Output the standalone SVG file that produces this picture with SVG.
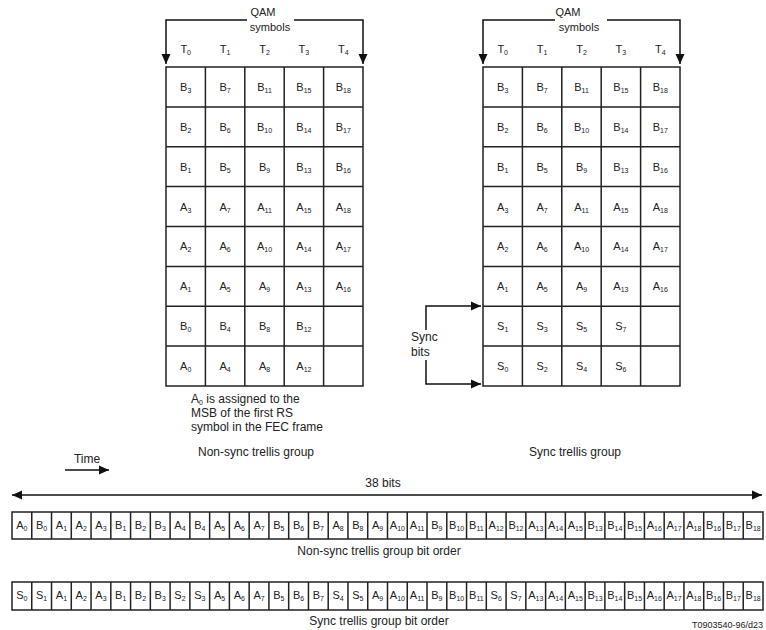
<svg xmlns="http://www.w3.org/2000/svg" width="766" height="630" viewBox="0 0 766 630">
<defs>
<marker id="ah" markerUnits="userSpaceOnUse" markerWidth="10" markerHeight="10" viewBox="0 0 10 10" refX="10" refY="5" orient="auto-start-reverse">
<path d="M0,0.5 L10,5 L0,9.5 Z" fill="#111"/>
</marker>
</defs>
<style>
text{font-family:"Liberation Sans",Arial,sans-serif;fill:#222}
.c{font-size:11px;text-anchor:middle}
.s{font-size:7px}
.l{font-size:12px}
.lm{font-size:12px;text-anchor:middle}
.g{fill:none;stroke:#222;stroke-width:1.5}
.a{fill:none;stroke:#111;stroke-width:1.5}
</style>
<rect width="766" height="630" fill="#fff"/>

<g id="connectors">
<path class="a" d="M247,20 L166,20 L166,64" marker-end="url(#ah)"/>
<path class="a" d="M294,20 L363,20 L363,64" marker-end="url(#ah)"/>
<path class="a" d="M555,20 L483,20 L483,64" marker-end="url(#ah)"/>
<path class="a" d="M607,20 L680,20 L680,64" marker-end="url(#ah)"/>
<path class="a" d="M426,330 L426,306 L481,306" marker-end="url(#ah)"/>
<path class="a" d="M426,360 L426,384 L481,384" marker-end="url(#ah)"/>
<path class="a" d="M65,470 L109,470" marker-end="url(#ah)"/>
<path class="a" d="M12,495 L762,495" marker-start="url(#ah)" marker-end="url(#ah)"/>
</g>

<g id="header-left">
<text class="c" x="263" y="16">QAM</text>
<text class="c" x="270" y="31">symbols</text>
<text class="c" x="185.7" y="53">T<tspan class="s" dy="2">0</tspan></text>
<text class="c" x="225.1" y="53">T<tspan class="s" dy="2">1</tspan></text>
<text class="c" x="264.5" y="53">T<tspan class="s" dy="2">2</tspan></text>
<text class="c" x="303.9" y="53">T<tspan class="s" dy="2">3</tspan></text>
<text class="c" x="343.3" y="53">T<tspan class="s" dy="2">4</tspan></text>
</g>

<g id="header-right">
<text class="c" x="568" y="16">QAM</text>
<text class="c" x="579" y="31">symbols</text>
<text class="c" x="502.7" y="53">T<tspan class="s" dy="2">0</tspan></text>
<text class="c" x="542.1" y="53">T<tspan class="s" dy="2">1</tspan></text>
<text class="c" x="581.5" y="53">T<tspan class="s" dy="2">2</tspan></text>
<text class="c" x="620.9" y="53">T<tspan class="s" dy="2">3</tspan></text>
<text class="c" x="660.3" y="53">T<tspan class="s" dy="2">4</tspan></text>
</g>

<g id="grid-nonsync">
<rect class="g" x="166" y="67" width="197" height="319"/>
<path class="g" d="M205.4,67V386M244.8,67V386M284.2,67V386M323.6,67V386M166,106.9H363M166,146.75H363M166,186.6H363M166,226.5H363M166,266.4H363M166,306.25H363M166,346.1H363"/>
<text class="c" x="185.7" y="91">B<tspan class="s" dy="2">3</tspan></text>
<text class="c" x="225.1" y="91">B<tspan class="s" dy="2">7</tspan></text>
<text class="c" x="264.5" y="91">B<tspan class="s" dy="2">11</tspan></text>
<text class="c" x="303.9" y="91">B<tspan class="s" dy="2">15</tspan></text>
<text class="c" x="343.3" y="91">B<tspan class="s" dy="2">18</tspan></text>
<text class="c" x="185.7" y="131">B<tspan class="s" dy="2">2</tspan></text>
<text class="c" x="225.1" y="131">B<tspan class="s" dy="2">6</tspan></text>
<text class="c" x="264.5" y="131">B<tspan class="s" dy="2">10</tspan></text>
<text class="c" x="303.9" y="131">B<tspan class="s" dy="2">14</tspan></text>
<text class="c" x="343.3" y="131">B<tspan class="s" dy="2">17</tspan></text>
<text class="c" x="185.7" y="171">B<tspan class="s" dy="2">1</tspan></text>
<text class="c" x="225.1" y="171">B<tspan class="s" dy="2">5</tspan></text>
<text class="c" x="264.5" y="171">B<tspan class="s" dy="2">9</tspan></text>
<text class="c" x="303.9" y="171">B<tspan class="s" dy="2">13</tspan></text>
<text class="c" x="343.3" y="171">B<tspan class="s" dy="2">16</tspan></text>
<text class="c" x="185.7" y="211">A<tspan class="s" dy="2">3</tspan></text>
<text class="c" x="225.1" y="211">A<tspan class="s" dy="2">7</tspan></text>
<text class="c" x="264.5" y="211">A<tspan class="s" dy="2">11</tspan></text>
<text class="c" x="303.9" y="211">A<tspan class="s" dy="2">15</tspan></text>
<text class="c" x="343.3" y="211">A<tspan class="s" dy="2">18</tspan></text>
<text class="c" x="185.7" y="250">A<tspan class="s" dy="2">2</tspan></text>
<text class="c" x="225.1" y="250">A<tspan class="s" dy="2">6</tspan></text>
<text class="c" x="264.5" y="250">A<tspan class="s" dy="2">10</tspan></text>
<text class="c" x="303.9" y="250">A<tspan class="s" dy="2">14</tspan></text>
<text class="c" x="343.3" y="250">A<tspan class="s" dy="2">17</tspan></text>
<text class="c" x="185.7" y="290">A<tspan class="s" dy="2">1</tspan></text>
<text class="c" x="225.1" y="290">A<tspan class="s" dy="2">5</tspan></text>
<text class="c" x="264.5" y="290">A<tspan class="s" dy="2">9</tspan></text>
<text class="c" x="303.9" y="290">A<tspan class="s" dy="2">13</tspan></text>
<text class="c" x="343.3" y="290">A<tspan class="s" dy="2">16</tspan></text>
<text class="c" x="185.7" y="330">B<tspan class="s" dy="2">0</tspan></text>
<text class="c" x="225.1" y="330">B<tspan class="s" dy="2">4</tspan></text>
<text class="c" x="264.5" y="330">B<tspan class="s" dy="2">8</tspan></text>
<text class="c" x="303.9" y="330">B<tspan class="s" dy="2">12</tspan></text>
<text class="c" x="185.7" y="370">A<tspan class="s" dy="2">0</tspan></text>
<text class="c" x="225.1" y="370">A<tspan class="s" dy="2">4</tspan></text>
<text class="c" x="264.5" y="370">A<tspan class="s" dy="2">8</tspan></text>
<text class="c" x="303.9" y="370">A<tspan class="s" dy="2">12</tspan></text>
</g>

<g id="grid-sync">
<rect class="g" x="483" y="67" width="197" height="319"/>
<path class="g" d="M522.4,67V386M561.8,67V386M601.2,67V386M640.6,67V386M483,106.9H680M483,146.75H680M483,186.6H680M483,226.5H680M483,266.4H680M483,306.25H680M483,346.1H680"/>
<text class="c" x="502.7" y="91">B<tspan class="s" dy="2">3</tspan></text>
<text class="c" x="542.1" y="91">B<tspan class="s" dy="2">7</tspan></text>
<text class="c" x="581.5" y="91">B<tspan class="s" dy="2">11</tspan></text>
<text class="c" x="620.9" y="91">B<tspan class="s" dy="2">15</tspan></text>
<text class="c" x="660.3" y="91">B<tspan class="s" dy="2">18</tspan></text>
<text class="c" x="502.7" y="131">B<tspan class="s" dy="2">2</tspan></text>
<text class="c" x="542.1" y="131">B<tspan class="s" dy="2">6</tspan></text>
<text class="c" x="581.5" y="131">B<tspan class="s" dy="2">10</tspan></text>
<text class="c" x="620.9" y="131">B<tspan class="s" dy="2">14</tspan></text>
<text class="c" x="660.3" y="131">B<tspan class="s" dy="2">17</tspan></text>
<text class="c" x="502.7" y="171">B<tspan class="s" dy="2">1</tspan></text>
<text class="c" x="542.1" y="171">B<tspan class="s" dy="2">5</tspan></text>
<text class="c" x="581.5" y="171">B<tspan class="s" dy="2">9</tspan></text>
<text class="c" x="620.9" y="171">B<tspan class="s" dy="2">13</tspan></text>
<text class="c" x="660.3" y="171">B<tspan class="s" dy="2">16</tspan></text>
<text class="c" x="502.7" y="211">A<tspan class="s" dy="2">3</tspan></text>
<text class="c" x="542.1" y="211">A<tspan class="s" dy="2">7</tspan></text>
<text class="c" x="581.5" y="211">A<tspan class="s" dy="2">11</tspan></text>
<text class="c" x="620.9" y="211">A<tspan class="s" dy="2">15</tspan></text>
<text class="c" x="660.3" y="211">A<tspan class="s" dy="2">18</tspan></text>
<text class="c" x="502.7" y="250">A<tspan class="s" dy="2">2</tspan></text>
<text class="c" x="542.1" y="250">A<tspan class="s" dy="2">6</tspan></text>
<text class="c" x="581.5" y="250">A<tspan class="s" dy="2">10</tspan></text>
<text class="c" x="620.9" y="250">A<tspan class="s" dy="2">14</tspan></text>
<text class="c" x="660.3" y="250">A<tspan class="s" dy="2">17</tspan></text>
<text class="c" x="502.7" y="290">A<tspan class="s" dy="2">1</tspan></text>
<text class="c" x="542.1" y="290">A<tspan class="s" dy="2">5</tspan></text>
<text class="c" x="581.5" y="290">A<tspan class="s" dy="2">9</tspan></text>
<text class="c" x="620.9" y="290">A<tspan class="s" dy="2">13</tspan></text>
<text class="c" x="660.3" y="290">A<tspan class="s" dy="2">16</tspan></text>
<text class="c" x="502.7" y="330">S<tspan class="s" dy="2">1</tspan></text>
<text class="c" x="542.1" y="330">S<tspan class="s" dy="2">3</tspan></text>
<text class="c" x="581.5" y="330">S<tspan class="s" dy="2">5</tspan></text>
<text class="c" x="620.9" y="330">S<tspan class="s" dy="2">7</tspan></text>
<text class="c" x="502.7" y="370">S<tspan class="s" dy="2">0</tspan></text>
<text class="c" x="542.1" y="370">S<tspan class="s" dy="2">2</tspan></text>
<text class="c" x="581.5" y="370">S<tspan class="s" dy="2">4</tspan></text>
<text class="c" x="620.9" y="370">S<tspan class="s" dy="2">6</tspan></text>
</g>

<g id="sync-bits-label">
<text class="l" x="411" y="341">Sync</text>
<text class="l" x="411" y="356">bits</text>
</g>

<g id="notes">
<text class="l" x="191" y="403">A<tspan class="s" dy="2">0</tspan><tspan dy="-2"> is assigned to the</tspan></text>
<text class="l" x="191" y="417">MSB of the first RS</text>
<text class="l" x="191" y="431">symbol in the FEC frame</text>
<text class="lm" x="256" y="456">Non-sync trellis group</text>
<text class="lm" x="575" y="456">Sync trellis group</text>
<text class="lm" x="87" y="463">Time</text>
<text class="lm" x="383" y="487">38 bits</text>
</g>

<g id="row-nonsync">
<rect class="g" x="12" y="512" width="751" height="27"/>
<path class="g" d="M31.76,512v27M51.53,512v27M71.29,512v27M91.05,512v27M110.82,512v27M130.58,512v27M150.34,512v27M170.1,512v27M189.87,512v27M209.63,512v27M229.39,512v27M249.16,512v27M268.92,512v27M288.68,512v27M308.45,512v27M328.21,512v27M347.97,512v27M367.73,512v27M387.5,512v27M407.26,512v27M427.02,512v27M446.79,512v27M466.55,512v27M486.31,512v27M506.08,512v27M525.84,512v27M545.6,512v27M565.36,512v27M585.13,512v27M604.89,512v27M624.65,512v27M644.42,512v27M664.18,512v27M683.94,512v27M703.71,512v27M723.47,512v27M743.23,512v27"/>
<text class="c" x="21.88" y="529">A<tspan class="s" dy="2">0</tspan></text>
<text class="c" x="41.64" y="529">B<tspan class="s" dy="2">0</tspan></text>
<text class="c" x="61.41" y="529">A<tspan class="s" dy="2">1</tspan></text>
<text class="c" x="81.17" y="529">A<tspan class="s" dy="2">2</tspan></text>
<text class="c" x="100.93" y="529">A<tspan class="s" dy="2">3</tspan></text>
<text class="c" x="120.7" y="529">B<tspan class="s" dy="2">1</tspan></text>
<text class="c" x="140.46" y="529">B<tspan class="s" dy="2">2</tspan></text>
<text class="c" x="160.22" y="529">B<tspan class="s" dy="2">3</tspan></text>
<text class="c" x="179.98" y="529">A<tspan class="s" dy="2">4</tspan></text>
<text class="c" x="199.75" y="529">B<tspan class="s" dy="2">4</tspan></text>
<text class="c" x="219.51" y="529">A<tspan class="s" dy="2">5</tspan></text>
<text class="c" x="239.27" y="529">A<tspan class="s" dy="2">6</tspan></text>
<text class="c" x="259.04" y="529">A<tspan class="s" dy="2">7</tspan></text>
<text class="c" x="278.8" y="529">B<tspan class="s" dy="2">5</tspan></text>
<text class="c" x="298.56" y="529">B<tspan class="s" dy="2">6</tspan></text>
<text class="c" x="318.33" y="529">B<tspan class="s" dy="2">7</tspan></text>
<text class="c" x="338.09" y="529">A<tspan class="s" dy="2">8</tspan></text>
<text class="c" x="357.85" y="529">B<tspan class="s" dy="2">8</tspan></text>
<text class="c" x="377.61" y="529">A<tspan class="s" dy="2">9</tspan></text>
<text class="c" x="397.38" y="529">A<tspan class="s" dy="2">10</tspan></text>
<text class="c" x="417.14" y="529">A<tspan class="s" dy="2">11</tspan></text>
<text class="c" x="436.9" y="529">B<tspan class="s" dy="2">9</tspan></text>
<text class="c" x="456.67" y="529">B<tspan class="s" dy="2">10</tspan></text>
<text class="c" x="476.43" y="529">B<tspan class="s" dy="2">11</tspan></text>
<text class="c" x="496.19" y="529">A<tspan class="s" dy="2">12</tspan></text>
<text class="c" x="515.96" y="529">B<tspan class="s" dy="2">12</tspan></text>
<text class="c" x="535.72" y="529">A<tspan class="s" dy="2">13</tspan></text>
<text class="c" x="555.48" y="529">A<tspan class="s" dy="2">14</tspan></text>
<text class="c" x="575.24" y="529">A<tspan class="s" dy="2">15</tspan></text>
<text class="c" x="595.01" y="529">B<tspan class="s" dy="2">13</tspan></text>
<text class="c" x="614.77" y="529">B<tspan class="s" dy="2">14</tspan></text>
<text class="c" x="634.53" y="529">B<tspan class="s" dy="2">15</tspan></text>
<text class="c" x="654.3" y="529">A<tspan class="s" dy="2">16</tspan></text>
<text class="c" x="674.06" y="529">A<tspan class="s" dy="2">17</tspan></text>
<text class="c" x="693.82" y="529">A<tspan class="s" dy="2">18</tspan></text>
<text class="c" x="713.59" y="529">B<tspan class="s" dy="2">16</tspan></text>
<text class="c" x="733.35" y="529">B<tspan class="s" dy="2">17</tspan></text>
<text class="c" x="753.11" y="529">B<tspan class="s" dy="2">18</tspan></text>
<text class="lm" x="379" y="555">Non-sync trellis group bit order</text>
</g>

<g id="row-sync">
<rect class="g" x="12" y="582" width="751" height="28"/>
<path class="g" d="M31.76,582v28M51.53,582v28M71.29,582v28M91.05,582v28M110.82,582v28M130.58,582v28M150.34,582v28M170.1,582v28M189.87,582v28M209.63,582v28M229.39,582v28M249.16,582v28M268.92,582v28M288.68,582v28M308.45,582v28M328.21,582v28M347.97,582v28M367.73,582v28M387.5,582v28M407.26,582v28M427.02,582v28M446.79,582v28M466.55,582v28M486.31,582v28M506.08,582v28M525.84,582v28M545.6,582v28M565.36,582v28M585.13,582v28M604.89,582v28M624.65,582v28M644.42,582v28M664.18,582v28M683.94,582v28M703.71,582v28M723.47,582v28M743.23,582v28"/>
<text class="c" x="21.88" y="599">S<tspan class="s" dy="2">0</tspan></text>
<text class="c" x="41.64" y="599">S<tspan class="s" dy="2">1</tspan></text>
<text class="c" x="61.41" y="599">A<tspan class="s" dy="2">1</tspan></text>
<text class="c" x="81.17" y="599">A<tspan class="s" dy="2">2</tspan></text>
<text class="c" x="100.93" y="599">A<tspan class="s" dy="2">3</tspan></text>
<text class="c" x="120.7" y="599">B<tspan class="s" dy="2">1</tspan></text>
<text class="c" x="140.46" y="599">B<tspan class="s" dy="2">2</tspan></text>
<text class="c" x="160.22" y="599">B<tspan class="s" dy="2">3</tspan></text>
<text class="c" x="179.98" y="599">S<tspan class="s" dy="2">2</tspan></text>
<text class="c" x="199.75" y="599">S<tspan class="s" dy="2">3</tspan></text>
<text class="c" x="219.51" y="599">A<tspan class="s" dy="2">5</tspan></text>
<text class="c" x="239.27" y="599">A<tspan class="s" dy="2">6</tspan></text>
<text class="c" x="259.04" y="599">A<tspan class="s" dy="2">7</tspan></text>
<text class="c" x="278.8" y="599">B<tspan class="s" dy="2">5</tspan></text>
<text class="c" x="298.56" y="599">B<tspan class="s" dy="2">6</tspan></text>
<text class="c" x="318.33" y="599">B<tspan class="s" dy="2">7</tspan></text>
<text class="c" x="338.09" y="599">S<tspan class="s" dy="2">4</tspan></text>
<text class="c" x="357.85" y="599">S<tspan class="s" dy="2">5</tspan></text>
<text class="c" x="377.61" y="599">A<tspan class="s" dy="2">9</tspan></text>
<text class="c" x="397.38" y="599">A<tspan class="s" dy="2">10</tspan></text>
<text class="c" x="417.14" y="599">A<tspan class="s" dy="2">11</tspan></text>
<text class="c" x="436.9" y="599">B<tspan class="s" dy="2">9</tspan></text>
<text class="c" x="456.67" y="599">B<tspan class="s" dy="2">10</tspan></text>
<text class="c" x="476.43" y="599">B<tspan class="s" dy="2">11</tspan></text>
<text class="c" x="496.19" y="599">S<tspan class="s" dy="2">6</tspan></text>
<text class="c" x="515.96" y="599">S<tspan class="s" dy="2">7</tspan></text>
<text class="c" x="535.72" y="599">A<tspan class="s" dy="2">13</tspan></text>
<text class="c" x="555.48" y="599">A<tspan class="s" dy="2">14</tspan></text>
<text class="c" x="575.24" y="599">A<tspan class="s" dy="2">15</tspan></text>
<text class="c" x="595.01" y="599">B<tspan class="s" dy="2">13</tspan></text>
<text class="c" x="614.77" y="599">B<tspan class="s" dy="2">14</tspan></text>
<text class="c" x="634.53" y="599">B<tspan class="s" dy="2">15</tspan></text>
<text class="c" x="654.3" y="599">A<tspan class="s" dy="2">16</tspan></text>
<text class="c" x="674.06" y="599">A<tspan class="s" dy="2">17</tspan></text>
<text class="c" x="693.82" y="599">A<tspan class="s" dy="2">18</tspan></text>
<text class="c" x="713.59" y="599">B<tspan class="s" dy="2">16</tspan></text>
<text class="c" x="733.35" y="599">B<tspan class="s" dy="2">17</tspan></text>
<text class="c" x="753.11" y="599">B<tspan class="s" dy="2">18</tspan></text>
<text class="lm" x="379" y="625">Sync trellis group bit order</text>
</g>

<text x="763" y="628" style="font-size:9px;text-anchor:end">T0903540-96/d23</text>
</svg>
